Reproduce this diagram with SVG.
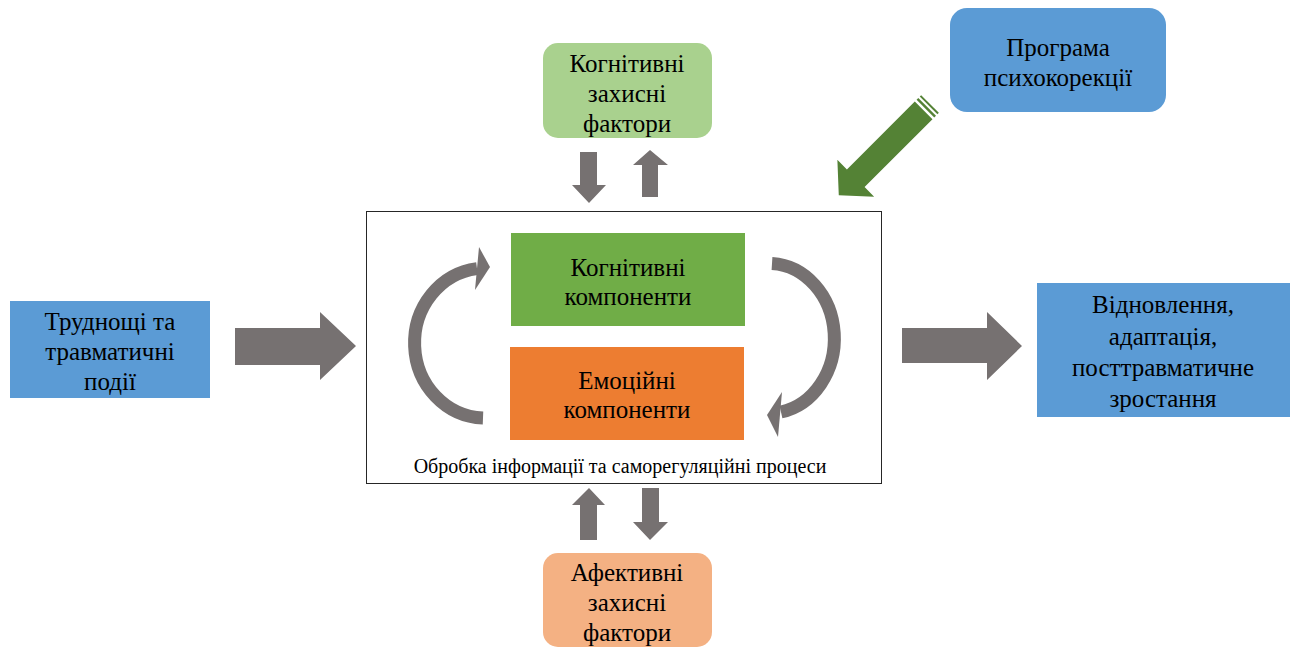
<svg xmlns="http://www.w3.org/2000/svg" width="1291" height="648" viewBox="0 0 1291 648">
<style>
text{font-family:"Liberation Serif","Times New Roman",serif;font-size:25px;fill:#000;text-anchor:middle}
.small{font-size:20px}
.gray{fill:#767171}
.arc{fill:none;stroke:#767171;stroke-width:13}
</style>
<rect width="1291" height="648" fill="#fff"/>
<g id="connectors">
<polygon class="gray" points="235,328 320,328 320,312 356,346 320,380 320,365 235,365"/>
<polygon class="gray" points="902,328 987,328 987,312 1022,346 987,380 987,363 902,363"/>
<polygon class="gray" points="580,152 597,152 597,185 606,185 589,203 572,185 580,185"/>
<polygon class="gray" points="642,197 658,197 658,165 668,165 650,150 633,165 642,165"/>
<polygon class="gray" points="580,540 597,540 597,505 605,505 589,488 572,505 580,505"/>
<polygon class="gray" points="642,488 659,488 659,522 668,522 650,540 633,522 642,522"/>
<g transform="translate(930,104) rotate(135)">
<rect x="0" y="-12.5" width="2" height="25" fill="#548235"/>
<rect x="4" y="-12.5" width="2.5" height="25" fill="#548235"/>
<polygon fill="#548235" points="9,-12.5 105,-12.5 105,-26 129,0 105,26 105,12.5 9,12.5"/>
</g>
</g>
<g id="process">
<rect x="366.5" y="211.5" width="515" height="272" fill="#fff" stroke="#262626" stroke-width="1"/>
<text class="small" x="620" y="473">Обробка інформації та саморегуляційні процеси</text>
<path class="arc" d="M483,418 A71,75 0 0 1 477,268.6"/>
<polygon class="gray" points="479,247 490,267 475,290"/>
<path class="arc" d="M772,263.5 A66,75 0 0 1 781,412"/>
<polygon class="gray" points="782,392 767,415 778,437"/>
</g>
<g id="cog-components">
<rect x="511" y="233" width="234" height="93" fill="#70AD47"/>
<text x="628" y="276">Когнітивні</text>
<text x="628" y="305">компоненти</text>
</g>
<g id="emo-components">
<rect x="510" y="347" width="234" height="93" fill="#ED7D31"/>
<text x="627" y="389">Емоційні</text>
<text x="627" y="418">компоненти</text>
</g>
<g id="cog-factors">
<rect x="543" y="43" width="169" height="95" rx="15" fill="#A9D18E"/>
<text x="627" y="72">Когнітивні</text>
<text x="627" y="102">захисні</text>
<text x="627" y="132">фактори</text>
</g>
<g id="aff-factors">
<rect x="543" y="553" width="169" height="94" rx="15" fill="#F4B183"/>
<text x="627" y="581">Афективні</text>
<text x="627" y="611">захисні</text>
<text x="627" y="641">фактори</text>
</g>
<g id="program">
<rect x="950" y="8" width="216" height="104" rx="17" fill="#5B9BD5"/>
<text x="1058" y="56">Програма</text>
<text x="1058" y="86">психокорекції</text>
</g>
<g id="difficulties">
<rect x="10" y="301" width="200" height="97" fill="#5B9BD5"/>
<text x="110" y="330">Труднощі та</text>
<text x="110" y="360">травматичні</text>
<text x="110" y="390">події</text>
</g>
<g id="recovery">
<rect x="1037" y="283" width="253" height="134" fill="#5B9BD5"/>
<text x="1163" y="313">Відновлення,</text>
<text x="1163" y="345">адаптація,</text>
<text x="1163" y="376">посттравматичне</text>
<text x="1163" y="407">зростання</text>
</g>
</svg>
